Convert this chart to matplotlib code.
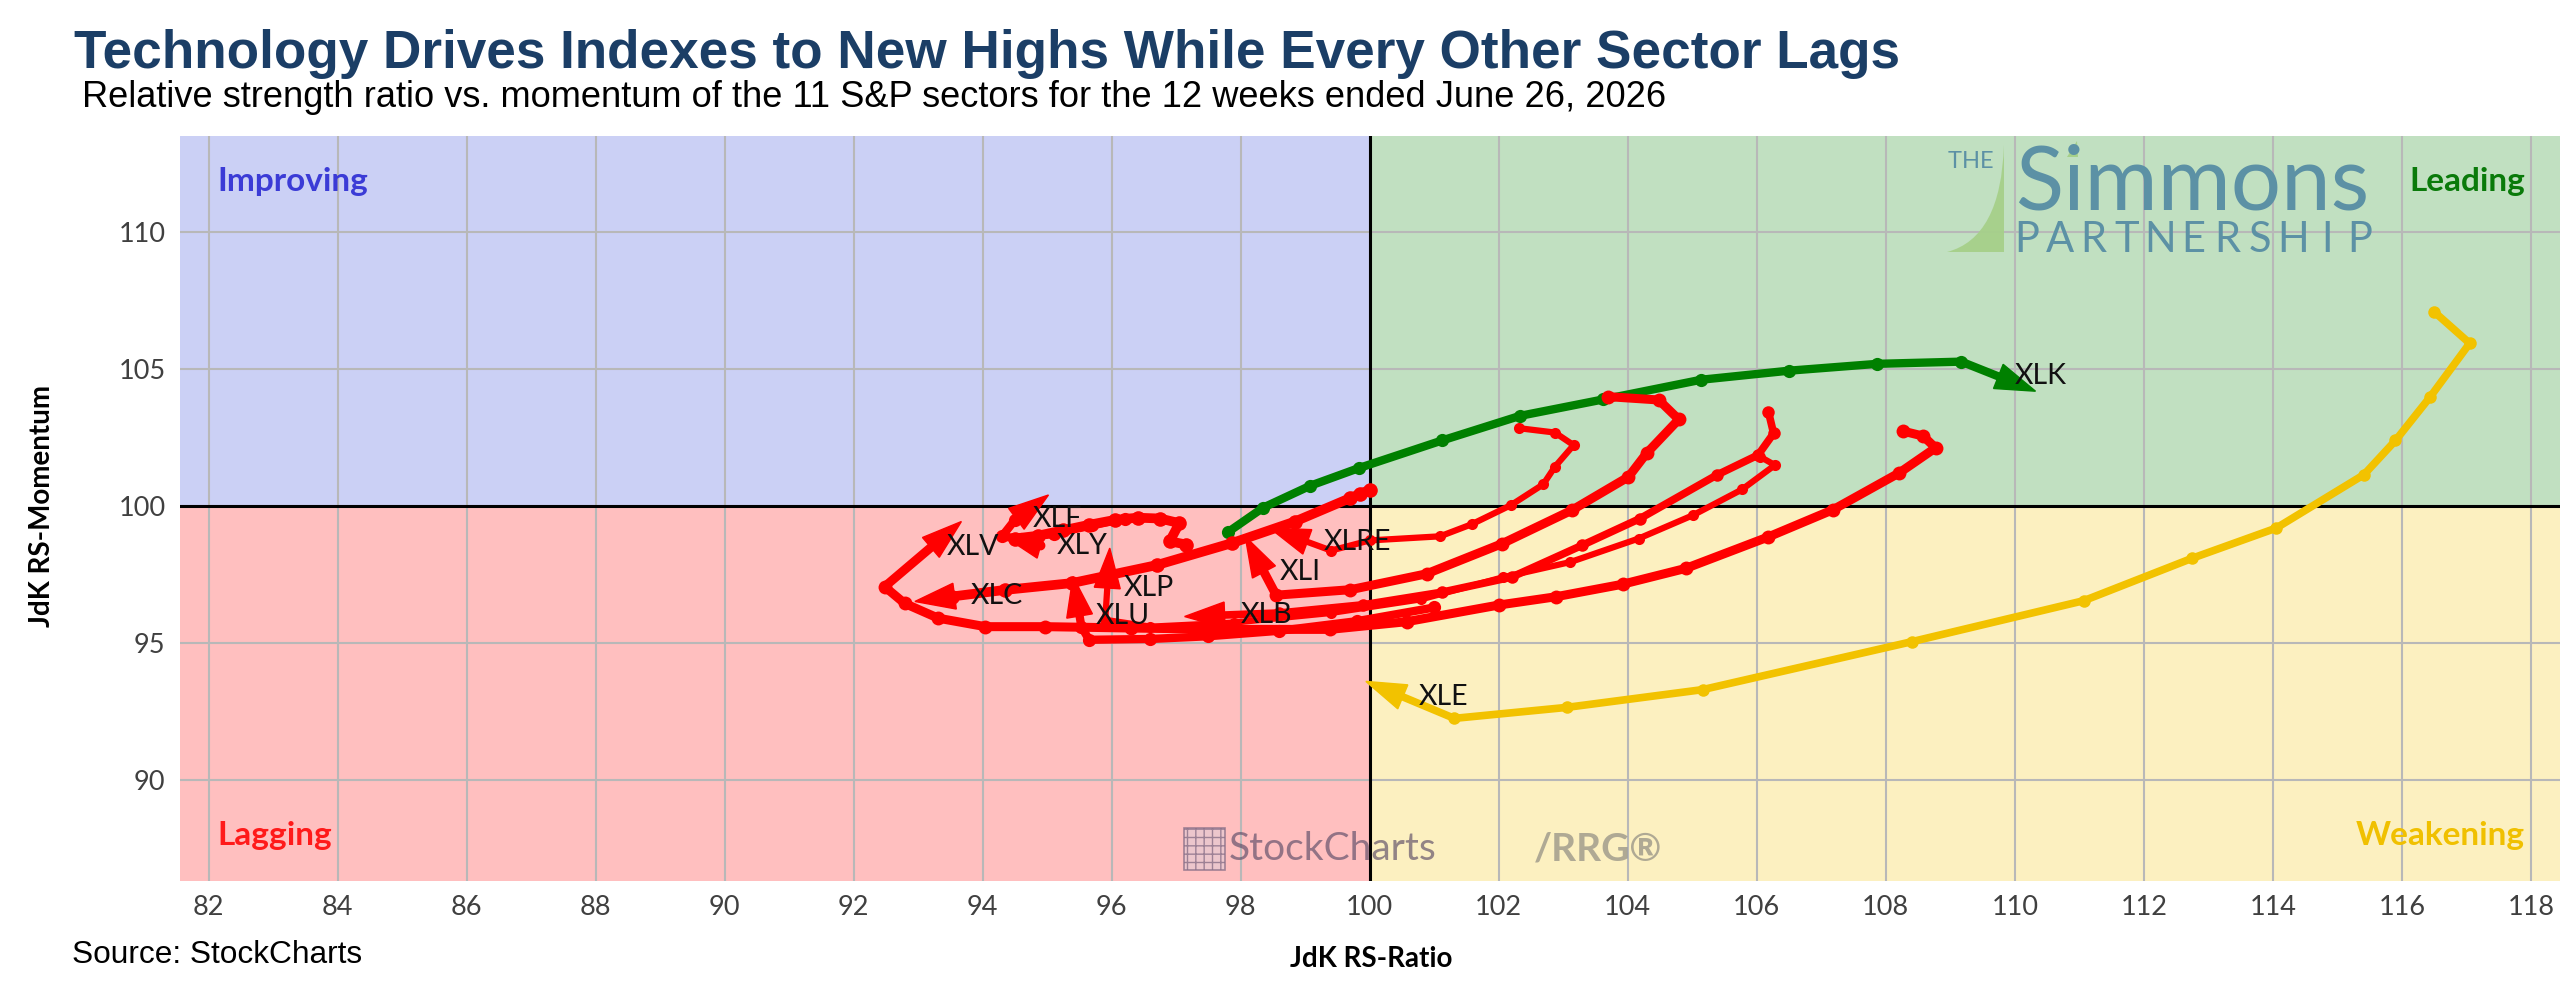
import numpy as np
import matplotlib.pyplot as plt
from matplotlib.patches import Rectangle, Polygon, PathPatch
from matplotlib.path import Path

# RRG tails (JdK RS-Ratio, JdK RS-Momentum), oldest week first, last point = arrow tip
xlk_x = [97.80, 98.35, 99.08, 99.84, 101.12, 102.33, 103.62, 105.14, 106.50, 107.87, 109.17, 110.32]
xlk_y = [99.05, 99.95, 100.75, 101.40, 102.40, 103.30, 103.90, 104.62, 104.95, 105.20, 105.28, 104.20]

xle_x = [116.50, 117.05, 116.44, 115.90, 115.41, 114.05, 112.75, 111.07, 108.40, 105.16, 103.05, 101.31, 99.94]
xle_y = [107.10, 105.95, 104.00, 102.40, 101.15, 99.20, 98.10, 96.55, 95.05, 93.30, 92.65, 92.25, 93.60]

xlre_x = [102.31, 102.87, 103.16, 102.87, 102.69, 102.19, 101.58, 101.09, 100.00, 99.40, 98.45]
xlre_y = [102.85, 102.69, 102.23, 101.44, 100.80, 100.04, 99.34, 98.90, 98.75, 98.38, 99.20]

xli_x = [103.70, 104.48, 104.79, 104.29, 104.01, 103.13, 102.05, 100.88, 99.70, 98.55, 98.07]
xli_y = [104.00, 103.88, 103.17, 101.93, 101.07, 99.85, 98.63, 97.53, 96.95, 96.75, 98.89]

xlb_x = [106.18, 106.26, 106.02, 105.38, 104.19, 103.29, 102.20, 101.12, 99.90, 98.60, 97.13]
xlb_y = [103.45, 102.66, 101.87, 101.14, 99.55, 98.57, 97.41, 96.86, 96.40, 96.10, 95.97]

xlp_x = [106.05, 106.28, 105.77, 105.01, 104.17, 103.11, 102.06, 100.80, 99.40, 97.90, 96.60, 95.90, 95.97]
xlp_y = [101.81, 101.50, 100.61, 99.67, 98.82, 97.96, 97.40, 96.60, 96.10, 95.75, 95.60, 95.85, 98.47]

xlv_x = [108.27, 108.58, 108.77, 108.21, 107.18, 106.17, 104.90, 103.92, 102.88, 102.00, 100.57, 99.38,
         97.80, 96.30, 94.97, 94.04, 93.31, 92.79, 92.48, 93.67]
xlv_y = [102.74, 102.56, 102.13, 101.22, 99.87, 98.87, 97.73, 97.15, 96.69, 96.39, 95.78, 95.50,
         95.50, 95.55, 95.60, 95.60, 95.91, 96.45, 97.06, 99.44]

xlu_x = [101.00, 99.80, 98.60, 97.50, 96.60, 95.65, 95.53, 95.40]
xlu_y = [96.30, 95.80, 95.45, 95.25, 95.15, 95.12, 95.60, 97.43]

xlc_x = [100.00, 99.85, 99.70, 98.84, 97.86, 96.70, 95.38, 94.34, 93.52, 92.95]
xlc_y = [100.60, 100.45, 100.30, 99.44, 98.65, 97.85, 97.19, 96.94, 96.70, 96.52]

xly_x = [97.15, 96.90, 97.05, 96.75, 96.40, 96.05, 95.65, 95.25, 94.85, 94.50, 94.30]
xly_y = [98.60, 98.72, 99.38, 99.55, 99.58, 99.50, 99.32, 99.12, 98.92, 98.82, 98.95]

xlf_x = [96.20, 95.70, 95.10, 94.60, 94.30, 94.50, 95.02]
xlf_y = [99.55, 99.30, 99.00, 98.80, 98.90, 99.50, 100.41]

x_ticks = list(range(82, 119, 2))
y_ticks = [90, 95, 100, 105, 110]

GREEN, YELLOW, RED = "#008000", "#f2c200", "#ff0000"
# name, xs, ys, colour, line width (pt)
sectors = [
    ("XLK", xlk_x, xlk_y, GREEN, 6.0),
    ("XLE", xle_x, xle_y, YELLOW, 5.5),
    ("XLRE", xlre_x, xlre_y, RED, 4.5),
    ("XLI", xli_x, xli_y, RED, 6.5),
    ("XLB", xlb_x, xlb_y, RED, 5.5),
    ("XLP", xlp_x, xlp_y, RED, 4.5),
    ("XLV", xlv_x, xlv_y, RED, 6.5),
    ("XLU", xlu_x, xlu_y, RED, 6.0),
    ("XLC", xlc_x, xlc_y, RED, 7.0),
    ("XLY", xly_x, xly_y, RED, 7.0),
    ("XLF", xlf_x, xlf_y, RED, 6.0),
]

plt.rcParams["font.family"] = ["Lato", "DejaVu Sans"]

W, H = 2560, 994
fig = plt.figure(figsize=(W / 100, H / 100), dpi=100)


def fx(px):
    return px / W


def fy(py):
    return 1 - py / H


ax = fig.add_axes([fx(179.5), fy(881), fx(W - 179.5), (881 - 135.5) / H])
ax.set_xlim(81.55, 118.45)
ax.set_ylim(86.31, 113.54)
x0, x1 = ax.get_xlim()
y0, y1 = ax.get_ylim()

# quadrants
ax.add_patch(Rectangle((x0, 100), 100 - x0, y1 - 100, color="#cbd0f5", zorder=0))
ax.add_patch(Rectangle((100, 100), x1 - 100, y1 - 100, color="#c1e0c1", zorder=0))
ax.add_patch(Rectangle((x0, y0), 100 - x0, 100 - y0, color="#ffbfbf", zorder=0))
ax.add_patch(Rectangle((100, y0), x1 - 100, 100 - y0, color="#fcf0c0", zorder=0))

for v in x_ticks:
    ax.axvline(v, color="#b8b8b8", lw=1.5, zorder=1)
for v in y_ticks:
    ax.axhline(v, color="#b8b8b8", lw=1.5, zorder=1)
ax.axvline(100, color="black", lw=2.2, zorder=2)
ax.axhline(100, color="black", lw=2.2, zorder=2)

for s in ax.spines.values():
    s.set_visible(False)
ax.set_xticks(x_ticks)
ax.set_yticks(y_ticks)
ax.tick_params(length=0, labelsize=19.5, labelcolor="#404040")
ax.tick_params(axis="x", pad=10)
ax.tick_params(axis="y", pad=10)

# quadrant names
qkw = dict(transform=ax.transAxes, fontsize=24, weight="bold", va="center")
ax.text(0.0158, 0.938, "Improving", color="#3b3bd6", ha="left", **qkw)
ax.text(0.9853, 0.938, "Leading", color="#0a7a0a", ha="right", **qkw)
ax.text(0.0158, 0.0617, "Lagging", color="#ff1a1a", ha="left", **qkw)
ax.text(0.9853, 0.0617, "Weakening", color="#f0c000", ha="right", **qkw)

# tails with arrow heads
HEAD_LEN, HEAD_HALF = 40.0, 13.0   # pixels
to_disp = ax.transData.transform
to_data = ax.transData.inverted().transform
for name, xs, ys, col, lw in sectors:
    tip = to_disp((xs[-1], ys[-1]))
    prev = to_disp((xs[-2], ys[-2]))
    d = (tip - prev) / np.hypot(*(tip - prev))
    n = np.array([-d[1], d[0]])
    base_d = tip - d * HEAD_LEN
    base = to_data(base_d)
    lx = list(xs[:-1]) + [base[0]]
    ly = list(ys[:-1]) + [base[1]]
    ax.plot(lx, ly, color=col, lw=lw, solid_capstyle="round", solid_joinstyle="round", zorder=4)
    ax.plot(xs[:-1], ys[:-1], "o", color=col, ms=lw + 3.5, mec="none", zorder=4)
    head = to_data(np.array([tip, base_d + n * HEAD_HALF, base_d - n * HEAD_HALF]))
    ax.add_patch(Polygon(head, closed=True, color=col, zorder=5))
    ax.annotate(name, xy=base, xytext=(16 * 0.72, 0), textcoords="offset points",
                ha="left", va="center", fontsize=20.5, color="#111111", zorder=6)

# titles and axis names
title = fig.text(fx(74), fy(68), "Technology Drives Indexes to New Highs While Every Other Sector Lags",
                 family="Liberation Sans", weight="bold", fontsize=36, color="#1b3e66", va="baseline")
sub = fig.text(fx(82), fy(107), "Relative strength ratio vs. momentum of the 11 S&P sectors for the 12 weeks ended June 26, 2026",
               family="Liberation Sans", fontsize=22, color="black", va="baseline")
src = fig.text(fx(72), fy(955), "Source: StockCharts", family="Liberation Sans", fontsize=21,
               color="black", va="center")
r = fig.canvas.get_renderer()
for t, target in [(title, 1828), (sub, 1582), (src, 290)]:
    w = t.get_window_extent(r).width
    t.set_fontsize(t.get_fontsize() * target / w)

fig.text(fx(1371), fy(959), "JdK RS-Ratio", ha="center", va="center", fontsize=20, weight="bold")
fig.text(fx(42), fy(506), "JdK RS-Momentum", ha="center", va="center", fontsize=20, weight="bold", rotation=90)

# The Simmons Partnership logo
LOGO = "#5c91a5"
swoosh = Path([(fx(1947), fy(252)), (fx(2001), fy(238)), (fx(2004), fy(145)), (fx(2004), fy(252)), (fx(1947), fy(252))],
              [Path.MOVETO, Path.CURVE3, Path.CURVE3, Path.LINETO, Path.CLOSEPOLY])
fig.patches.append(PathPatch(swoosh, transform=fig.transFigure, facecolor="#a6d08a", edgecolor="none", alpha=0.95))
fig.patches.append(Polygon([(fx(2067), fy(157)), (fx(2077), fy(141)), (fx(2078), fy(157))], closed=True,
                           transform=fig.transFigure, facecolor="#a6d08a", edgecolor="none"))
for i, ch in enumerate("THE"):
    fig.text(fx(1955 + 16 * i), fy(168), ch, ha="center", va="baseline", fontsize=17, color=LOGO)
simm = fig.text(fx(2015), fy(210), "Simmons", ha="left", va="baseline", fontsize=64, color=LOGO)
w = simm.get_window_extent(r).width
simm.set_fontsize(simm.get_fontsize() * 354 / w)
for i, ch in enumerate("PARTNERSHIP"):
    fig.text(fx(2027 + 33.3 * i), fy(252), ch, ha="center", va="baseline", fontsize=30, color=LOGO)

# StockCharts / RRG watermark
fig.patches.append(Rectangle((fx(1184), fy(870)), fx(41), 42 / H, transform=fig.transFigure,
                             facecolor="#e8c8d0", edgecolor="#8a7088", hatch="++", lw=1.2, alpha=0.8))
fig.text(fx(1229), fy(849), "StockCharts", ha="left", va="center", fontsize=28, color="#5a4a66", alpha=0.65)
fig.text(fx(1534), fy(849), "/RRG\u00ae", ha="left", va="center", fontsize=28, weight="bold", color="#707070", alpha=0.55)

fig.savefig("out.png", dpi=100)
